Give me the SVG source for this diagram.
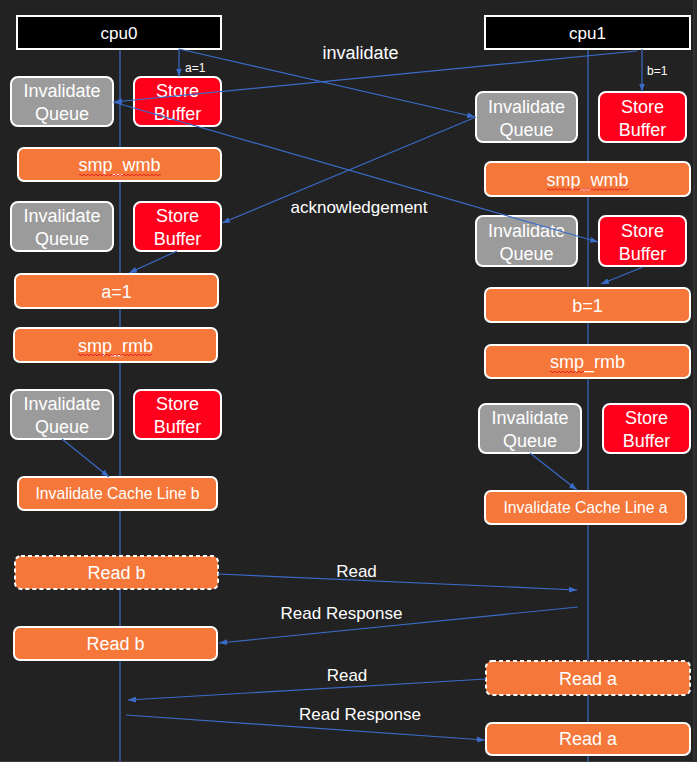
<svg xmlns="http://www.w3.org/2000/svg" width="697" height="762" viewBox="0 0 697 762">
<style>
.bg{fill:#222222}
.cpu{fill:#000000;stroke:#ffffff;stroke-width:2}
.iq{fill:#9b9b9b;stroke:#ffffff;stroke-width:2}
.sb{fill:#ff001c;stroke:#ffffff;stroke-width:2}
.op{fill:#f5773a;stroke:#ffffff;stroke-width:2}
.dash{stroke-dasharray:4 3}
.life{stroke:#3a6bc8;stroke-width:1.2;fill:none}
.c{stroke:#3a6bc8;stroke-width:1.2;fill:none;marker-end:url(#ah)}
.cn{stroke:#3a6bc8;stroke-width:1.2;fill:none}
text{font-family:"Liberation Sans","Noto Sans",Arial,sans-serif;fill:#ffffff;text-anchor:middle}
.t18{font-size:18px}
.t17{font-size:17px}
.t16{font-size:15.7px}
.t12{font-size:12px;text-anchor:start}
.sq{stroke:#e0101a;stroke-width:0.8;fill:none}
</style>
<defs>
<marker id="ah" markerWidth="8" markerHeight="6" refX="8" refY="3" orient="auto" markerUnits="userSpaceOnUse">
<path d="M0 0 L8 3 L0 6 z" fill="#3a6bc8"/>
</marker>
</defs>
<rect class="bg" x="0" y="0" width="697" height="762"/>
<rect x="694" y="0" width="3" height="762" fill="#2b2b2b"/>
<line x1="693.8" y1="0" x2="693.8" y2="762" stroke="#3a3a3a" stroke-width="1"/>
<line x1="0" y1="761.5" x2="694" y2="761.5" stroke="#3a3a3a" stroke-width="1"/>

<g id="lifelines">
<line class="life" x1="120" y1="49" x2="120" y2="762"/>
<line class="life" x1="588" y1="49" x2="588" y2="762"/>
</g>

<g id="cpu0">
<rect class="cpu" x="17" y="16" width="204" height="33"/>
<text class="t17" x="119" y="39">cpu0</text>
</g>
<g id="cpu1">
<rect class="cpu" x="485" y="16" width="205" height="33"/>
<text class="t17" x="587.5" y="39">cpu1</text>
</g>

<g id="cpu0-iq1"><rect class="iq" x="11" y="77" width="102" height="49" rx="7"/><text class="t18" x="62" y="97">Invalidate</text><text class="t18" x="62" y="120">Queue</text></g>
<g id="cpu0-sb1"><rect class="sb" x="134" y="77" width="87" height="49" rx="7"/><text class="t18" x="177.5" y="97">Store</text><text class="t18" x="177.5" y="120">Buffer</text></g>
<g id="cpu0-wmb"><rect class="op" x="18" y="148" width="203" height="33" rx="6"/><text class="t18" x="119.5" y="171">smp_wmb</text></g>

<g id="cpu1-iq1"><rect class="iq" x="476" y="92" width="101" height="50" rx="7"/><text class="t18" x="526.5" y="112.5">Invalidate</text><text class="t18" x="526.5" y="135.5">Queue</text></g>
<g id="cpu1-sb1"><rect class="sb" x="599" y="92" width="87" height="50" rx="7"/><text class="t18" x="642.5" y="112.5">Store</text><text class="t18" x="642.5" y="135.5">Buffer</text></g>
<g id="cpu1-wmb"><rect class="op" x="485" y="162" width="205" height="34" rx="6"/><text class="t18" x="587.5" y="185.5">smp_wmb</text></g>

<g id="cpu0-iq2"><rect class="iq" x="11" y="202" width="102" height="49" rx="7"/><text class="t18" x="62" y="222">Invalidate</text><text class="t18" x="62" y="245">Queue</text></g>
<g id="cpu0-sb2"><rect class="sb" x="134" y="202" width="87" height="49" rx="7"/><text class="t18" x="177.5" y="222">Store</text><text class="t18" x="177.5" y="245">Buffer</text></g>
<g id="cpu0-a1"><rect class="op" x="15" y="274" width="203" height="34" rx="6"/><text class="t18" x="116.5" y="297.5">a=1</text></g>
<g id="cpu0-rmb"><rect class="op" x="14" y="328" width="203" height="34" rx="6"/><text class="t18" x="115.5" y="351.5">smp_rmb</text></g>

<g id="cpu1-iq2"><rect class="iq" x="476" y="216" width="101" height="50" rx="7"/><text class="t18" x="526.5" y="236.5">Invalidate</text><text class="t18" x="526.5" y="259.5">Queue</text></g>
<g id="cpu1-sb2"><rect class="sb" x="599" y="216" width="87" height="50" rx="7"/><text class="t18" x="642.5" y="236.5">Store</text><text class="t18" x="642.5" y="259.5">Buffer</text></g>
<g id="cpu1-b1"><rect class="op" x="485" y="288" width="205" height="34" rx="6"/><text class="t18" x="587.5" y="311.5">b=1</text></g>
<g id="cpu1-rmb"><rect class="op" x="485" y="345" width="205" height="33" rx="6"/><text class="t18" x="587.5" y="368">smp_rmb</text></g>

<g id="cpu0-iq3"><rect class="iq" x="11" y="390" width="102" height="49" rx="7"/><text class="t18" x="62" y="410">Invalidate</text><text class="t18" x="62" y="433">Queue</text></g>
<g id="cpu0-sb3"><rect class="sb" x="134" y="390" width="87" height="49" rx="7"/><text class="t18" x="177.5" y="410">Store</text><text class="t18" x="177.5" y="433">Buffer</text></g>
<g id="cpu0-iclb"><rect class="op" x="18" y="477" width="199" height="33" rx="6"/><text class="t16" x="117.5" y="499">Invalidate Cache Line b</text></g>

<g id="cpu1-iq3"><rect class="iq" x="479" y="404" width="102" height="49" rx="7"/><text class="t18" x="530" y="424">Invalidate</text><text class="t18" x="530" y="447">Queue</text></g>
<g id="cpu1-sb3"><rect class="sb" x="603" y="404" width="87" height="49" rx="7"/><text class="t18" x="646.5" y="424">Store</text><text class="t18" x="646.5" y="447">Buffer</text></g>
<g id="cpu1-icla"><rect class="op" x="485" y="491" width="201" height="33" rx="6"/><text class="t16" x="585.5" y="513">Invalidate Cache Line a</text></g>

<g id="cpu0-readb-pending"><rect class="op dash" x="15" y="556" width="203" height="33" rx="6"/><text class="t18" x="116.5" y="579">Read b</text></g>
<g id="cpu0-readb"><rect class="op" x="14" y="627" width="203" height="33" rx="6"/><text class="t18" x="115.5" y="650">Read b</text></g>
<g id="cpu1-reada-pending"><rect class="op dash" x="486" y="661" width="204" height="34" rx="6"/><text class="t18" x="588" y="684.5">Read a</text></g>
<g id="cpu1-reada"><rect class="op" x="486" y="723" width="204" height="32" rx="6"/><text class="t18" x="588" y="745">Read a</text></g>

<g id="spellmarks">
<path class="sq" d="M79 175 q1 -1.6 2 0 t2 0 t2 0 t2 0 t2 0 t2 0 t2 0 t2 0 t2 0 t2 0 t2 0 t2 0 t2 0 t2 0 t2 0 t2 0 t2 0 t2 0 t2 0 t2 0 t2 0 t2 0 t2 0 t2 0 t2 0 t2 0 t2 0 t2 0 t2 0 t2 0 t2 0 t2 0 t2 0 t2 0 t2 0 t2 0 t2 0 t2 0 t2 0 t2 0 t2 0"/>
<path class="sq" d="M547 189.5 q1 -1.6 2 0 t2 0 t2 0 t2 0 t2 0 t2 0 t2 0 t2 0 t2 0 t2 0 t2 0 t2 0 t2 0 t2 0 t2 0 t2 0 t2 0 t2 0 t2 0 t2 0 t2 0 t2 0 t2 0 t2 0 t2 0 t2 0 t2 0 t2 0 t2 0 t2 0 t2 0 t2 0 t2 0 t2 0 t2 0 t2 0 t2 0 t2 0 t2 0 t2 0 t2 0"/>
<path class="sq" d="M78 355 q1 -1.6 2 0 t2 0 t2 0 t2 0 t2 0 t2 0 t2 0 t2 0 t2 0 t2 0 t2 0 t2 0 t2 0 t2 0 t2 0 t2 0 t2 0 t2 0 t2 0 t2 0 t2 0 t2 0 t2 0 t2 0 t2 0 t2 0 t2 0 t2 0 t2 0 t2 0 t2 0 t2 0 t2 0 t2 0 t2 0 t2 0 t2 0"/>
<path class="sq" d="M550 372 q1 -1.6 2 0 t2 0 t2 0 t2 0 t2 0 t2 0 t2 0 t2 0 t2 0 t2 0 t2 0 t2 0 t2 0 t2 0 t2 0 t2 0 t2 0"/>
</g>

<g id="connectors">
<path class="c" d="M179 49 V76.5"/>
<path class="c" d="M642 49 V91.5"/>
<path class="c" d="M179 49 L475 117"/>
<path class="c" d="M637 51 L114 102"/>
<path class="c" d="M476 117 L222 223"/>
<path class="c" d="M113 102 L598 242"/>
<path class="c" d="M177 251 L129 273"/>
<path class="c" d="M643 267 L601 284"/>
<path class="c" d="M62 439 L109 477"/>
<path class="c" d="M530 453 L577 490"/>
<path class="c" d="M218 574 L577 590"/>
<path class="c" d="M578 607 L219 643"/>
<path class="c" d="M486 679 L128 700"/>
<path class="c" d="M126 715 L485 740"/>
</g>

<g id="labels">
<text class="t12" x="185" y="72">a=1</text>
<text class="t12" x="647" y="75">b=1</text>
<text class="t18" x="360.5" y="59">invalidate</text>
<text class="t17" x="359" y="213">acknowledgement</text>
<text class="t17" x="356.5" y="577">Read</text>
<text class="t17" x="341.5" y="619">Read Response</text>
<text class="t17" x="347" y="681">Read</text>
<text class="t17" x="360" y="720">Read Response</text>
</g>
</svg>
